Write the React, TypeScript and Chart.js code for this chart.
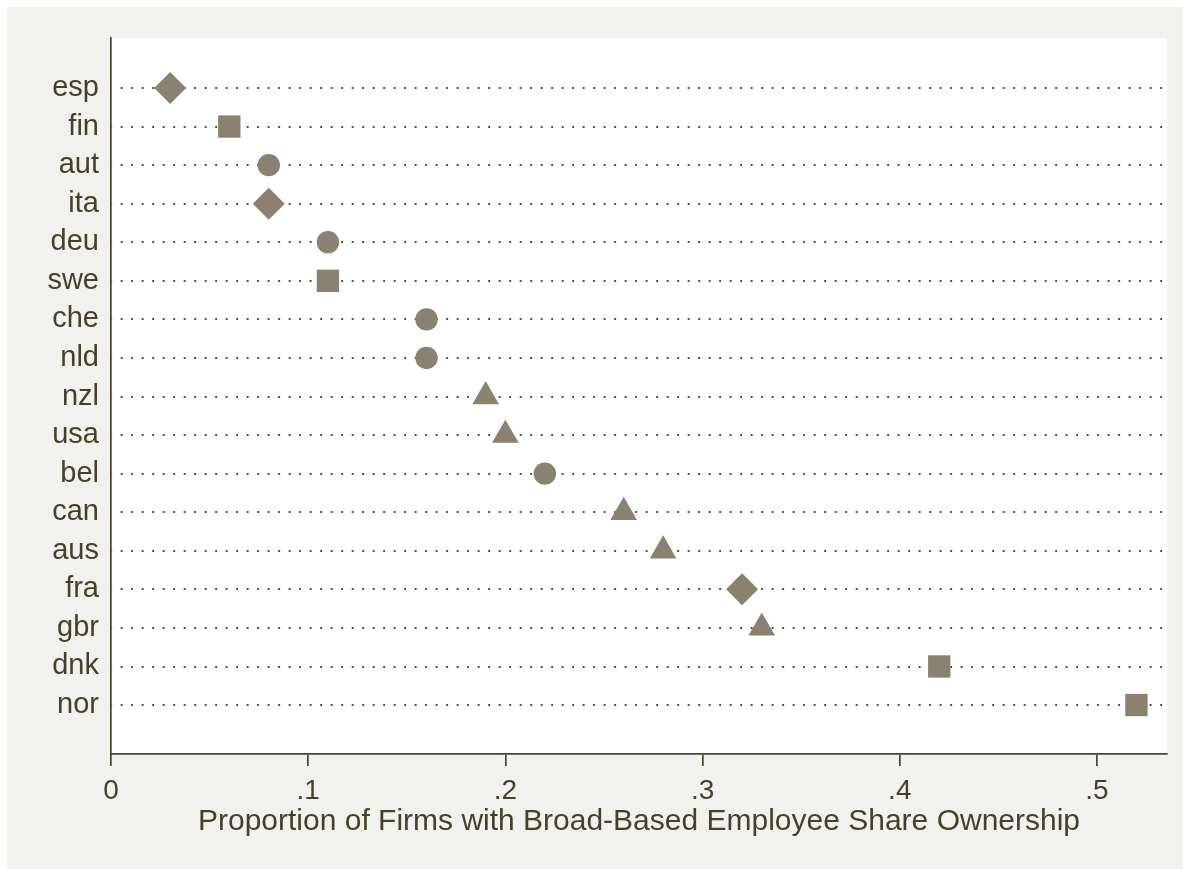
import React, { useEffect, useRef } from "react";
import { Chart, registerables } from "chart.js";

Chart.register(...registerables);

const countries = ["esp", "fin", "aut", "ita", "deu", "swe", "che", "nld", "nzl", "usa", "bel", "can", "aus", "fra", "gbr", "dnk", "nor"];
const proportions = [0.03, 0.06, 0.08, 0.08, 0.11, 0.11, 0.16, 0.16, 0.19, 0.2, 0.22, 0.26, 0.28, 0.32, 0.33, 0.42, 0.52];
const markerShapes = ["rectRot", "rect", "circle", "rectRot", "circle", "rect", "circle", "circle", "triangle", "triangle", "circle", "triangle", "triangle", "rectRot", "triangle", "rect", "rect"];
const xTickValues = [0, 0.1, 0.2, 0.3, 0.4, 0.5];
const xTickLabels = ["0", ".1", ".2", ".3", ".4", ".5"];
const xAxisTitle = "Proportion of Firms with Broad-Based Employee Share Ownership";

const markerRadius: Record<string, number> = { circle: 11.2, rect: 15.8, rectRot: 16, triangle: 15.4 };

const TEXT = "#463f2b";
const AXIS = "#4a4330";
const MARKER = "#8b8170";
const DOTS = "#4f4a3a";
const FONT = "'Liberation Sans', Arial, Helvetica, sans-serif";

const plotBg = {
  id: "plotBg",
  beforeDraw(chart: any) {
    const { ctx, chartArea } = chart;
    ctx.save();
    ctx.fillStyle = "#ffffff";
    ctx.fillRect(chartArea.left, chartArea.top, chartArea.right - chartArea.left, chartArea.bottom - chartArea.top);
    ctx.restore();
  },
};

export default function App() {
  const ref = useRef<HTMLCanvasElement | null>(null);

  useEffect(() => {
    if (!ref.current) return;
    const points = countries.map((_, i) => ({ x: proportions[i], y: i + 1 }));
    const chart = new Chart(ref.current, {
      type: "scatter",
      data: {
        datasets: [
          {
            data: points,
            pointStyle: markerShapes as any,
            pointRadius: markerShapes.map((s) => markerRadius[s]),
            pointHoverRadius: markerShapes.map((s) => markerRadius[s]),
            backgroundColor: MARKER,
            borderColor: MARKER,
            pointBorderWidth: 0,
          },
        ],
      },
      options: {
        responsive: false,
        animation: false,
        events: [],
        layout: { padding: { top: 31, right: 15, left: 0, bottom: 0 } },
        plugins: { legend: { display: false }, tooltip: { enabled: false } },
        scales: {
          x: {
            type: "linear",
            min: 0,
            max: 0.5355,
            afterBuildTicks: (scale: any) => {
              scale.ticks = xTickValues.map((v) => ({ value: v }));
            },
            afterFit: (scale: any) => {
              scale.height = 115;
            },
            ticks: {
              color: TEXT,
              font: { family: FONT, size: 28 },
              padding: 8,
              maxRotation: 0,
              callback: (value: any) => {
                const idx = xTickValues.findIndex((v) => Math.abs(v - Number(value)) < 1e-9);
                return idx >= 0 ? xTickLabels[idx] : "";
              },
            },
            grid: {
              drawOnChartArea: false,
              drawTicks: true,
              tickLength: 12,
              tickColor: AXIS,
              tickWidth: 1.7,
              lineWidth: 1.7,
              color: AXIS,
            },
            border: { display: true, color: AXIS, width: 1.7 },
            title: {
              display: true,
              text: xAxisTitle,
              color: TEXT,
              font: { family: FONT, size: 30 },
              padding: { top: 0, bottom: 29 },
            },
          },
          y: {
            type: "linear",
            reverse: true,
            min: -0.2966,
            max: 18.27,
            afterBuildTicks: (scale: any) => {
              scale.ticks = countries.map((_, i) => ({ value: i + 1 }));
            },
            afterFit: (scale: any) => {
              scale.width = 104;
            },
            ticks: {
              color: TEXT,
              font: { family: FONT, size: 29 },
              padding: 12,
              callback: (value: any) => {
                const i = Math.round(Number(value)) - 1;
                return countries[i] ?? "";
              },
            },
            grid: {
              drawOnChartArea: true,
              drawTicks: false,
              color: DOTS,
              lineWidth: 1.9,
            },
            border: { display: true, color: AXIS, width: 1.7, dash: [1.9, 8.6], dashOffset: -9 },
          },
        },
      },
      plugins: [plotBg],
    });
    return () => chart.destroy();
  }, []);

  return (
    <div
      style={{
        position: "absolute",
        left: 7,
        top: 7,
        width: 1176,
        height: 862,
        background: "#f1f1ed",
      }}
    >
      <canvas ref={ref} width={1176} height={862} style={{ display: "block" }} />
    </div>
  );
}
